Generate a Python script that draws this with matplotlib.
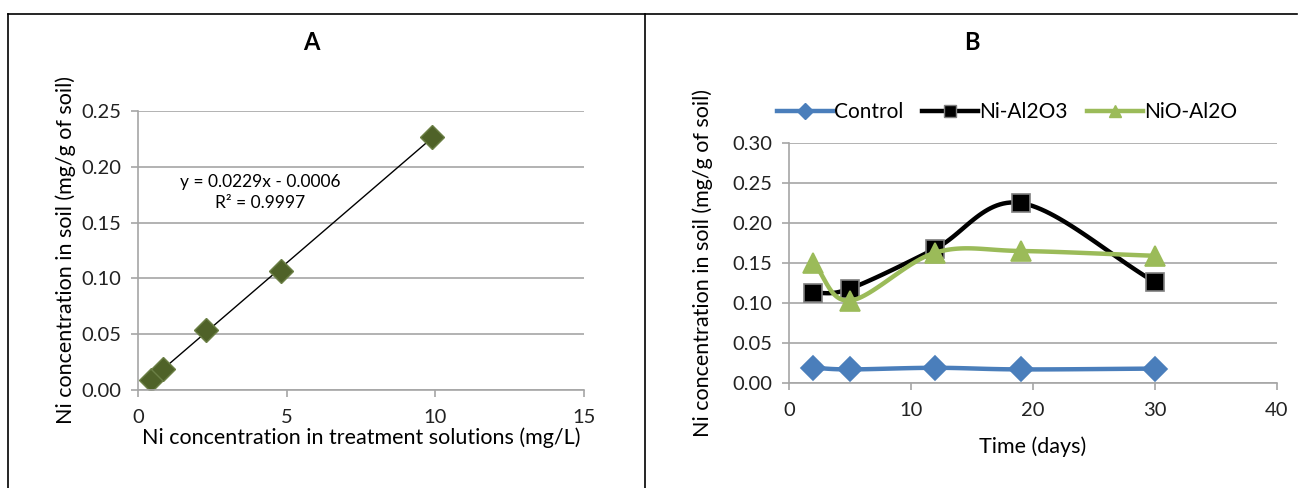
import numpy as np
import matplotlib
matplotlib.use("Agg")
import matplotlib.pyplot as plt
from matplotlib.lines import Line2D

plt.rcParams['font.family'] = ['Lato', 'DejaVu Sans']

# Panel A data: calibration
conc_solution = [0.45, 0.85, 2.3, 4.8, 9.9]
conc_soil = [0.009, 0.019, 0.054, 0.107, 0.227]
fit_slope = 0.0229
fit_intercept = -0.0006

# Panel B data: time course
days = [2, 5, 12, 19, 30]
control = [0.019, 0.017, 0.019, 0.017, 0.018]
ni_al2o3 = [0.112, 0.118, 0.168, 0.225, 0.126]
nio_al2o = [0.150, 0.103, 0.163, 0.165, 0.159]


def smooth(x, y, n=30):
    # Catmull-Rom style curve like Excel's smoothed line
    x = np.asarray(x, float)
    y = np.asarray(y, float)
    px = np.concatenate([[2 * x[0] - x[1]], x, [2 * x[-1] - x[-2]]])
    py = np.concatenate([[2 * y[0] - y[1]], y, [2 * y[-1] - y[-2]]])
    xs, ys = [], []
    t = np.linspace(0, 1, n)
    for i in range(1, len(px) - 2):
        p0, p1, p2, p3 = (np.array([px[j], py[j]]) for j in range(i - 1, i + 3))
        m1 = (p2 - p0) / 2
        m2 = (p3 - p1) / 2
        h00 = 2 * t**3 - 3 * t**2 + 1
        h10 = t**3 - 2 * t**2 + t
        h01 = -2 * t**3 + 3 * t**2
        h11 = t**3 - t**2
        pts = (np.outer(h00, p1) + np.outer(h10, m1) + np.outer(h01, p2)
               + np.outer(h11, m2))
        xs.extend(pts[:, 0])
        ys.extend(pts[:, 1])
    return xs, ys


def style_axes(ax):
    ax.grid(axis='y', color='#a6a6a6', linewidth=1.2)
    ax.set_axisbelow(True)
    for s in ['top', 'right']:
        ax.spines[s].set_visible(False)
    for s in ['left', 'bottom']:
        ax.spines[s].set_color('#a6a6a6')
        ax.spines[s].set_linewidth(1.2)
    ax.tick_params(axis='both', colors='#a6a6a6', labelcolor='#222222',
                   labelsize=14.5, length=5, width=1.2)
    ax.tick_params(axis='x', pad=9)
    ax.tick_params(axis='y', pad=7)


fig = plt.figure(figsize=(12.99, 4.88), dpi=100)

# outer frame lines
fig.add_artist(Line2D([8 / 1299, 1297 / 1299], [1 - 14 / 488, 1 - 14 / 488],
                      color='black', linewidth=1.2, transform=fig.transFigure))
fig.add_artist(Line2D([8 / 1299, 8 / 1299], [0, 1 - 14 / 488],
                      color='black', linewidth=1.2, transform=fig.transFigure))
fig.add_artist(Line2D([645 / 1299, 645 / 1299], [0, 1 - 14 / 488],
                      color='black', linewidth=1.2, transform=fig.transFigure))

# Panel A
axA = fig.add_axes([138 / 1299, 1 - 390 / 488, 446 / 1299, 279 / 488])
style_axes(axA)
fx = np.array([conc_solution[0], conc_solution[-1]])
axA.plot(fx, fit_slope * fx + fit_intercept, color='black', linewidth=1)
axA.plot(conc_solution, conc_soil, linestyle='none', marker='D',
         markersize=12, color='#4f6228', markeredgecolor='#6b7f45',
         markeredgewidth=1)
axA.set_xlim(0, 15)
axA.set_ylim(0, 0.25)
axA.set_xticks([0, 5, 10, 15])
axA.set_yticks(np.arange(0, 0.26, 0.05))
axA.yaxis.set_major_formatter(plt.FormatStrFormatter('%.2f'))
axA.set_xlabel('Ni concentration in treatment solutions (mg/L)', fontsize=15.5,
               labelpad=1)
axA.set_ylabel('Ni concentration in soil (mg/g of soil)', fontsize=15.5,
               labelpad=4)
axA.text(4.1, 0.177, 'y = 0.0229x - 0.0006\nR² = 0.9997', ha='center',
         va='center', fontsize=12.5, linespacing=1.35)
fig.text(311 / 1299, 1 - 43 / 488, 'A', ha='center', va='center',
         fontsize=17, fontweight='bold')

# Panel B
axB = fig.add_axes([789 / 1299, 1 - 383 / 488, 488 / 1299, 240 / 488])
style_axes(axB)
series = [
    ('Control', control, '#4a7ebb', 'D', '#4a7ebb', 12),
    ('Ni-Al2O3', ni_al2o3, 'black', 's', '#7f7f7f', 13),
    ('NiO-Al2O', nio_al2o, '#9bbb59', '^', '#9bbb59', 14),
]
handles = []
for name, vals, col, mk, edge, ms in series:
    sx, sy = smooth(days, vals)
    axB.plot(sx, sy, color=col, linewidth=3.2, solid_capstyle='round')
    axB.plot(days, vals, linestyle='none', marker=mk, markersize=ms,
             color=col, markeredgecolor=edge, markeredgewidth=1.2)
    handles.append(Line2D([], [], color=col, linewidth=3.2, marker=mk,
                          markersize=8, markeredgecolor=edge, label=name))
axB.set_xlim(0, 40)
axB.set_ylim(0, 0.30)
axB.set_xticks([0, 10, 20, 30, 40])
axB.set_yticks(np.arange(0, 0.31, 0.05))
axB.yaxis.set_major_formatter(plt.FormatStrFormatter('%.2f'))
axB.set_xlabel('Time (days)', fontsize=15.5, labelpad=12)
axB.set_ylabel('Ni concentration in soil (mg/g of soil)', fontsize=15.5,
               labelpad=14)
fig.legend(handles=handles, loc='center', ncol=3,
           bbox_to_anchor=(1007 / 1299, 1 - 112 / 488), frameon=False,
           fontsize=15, handlelength=2.7, handletextpad=0.05,
           columnspacing=0.9)
fig.text(972 / 1299, 1 - 43 / 488, 'B', ha='center', va='center',
         fontsize=17, fontweight='bold')

fig.savefig('out.png', dpi=100)
